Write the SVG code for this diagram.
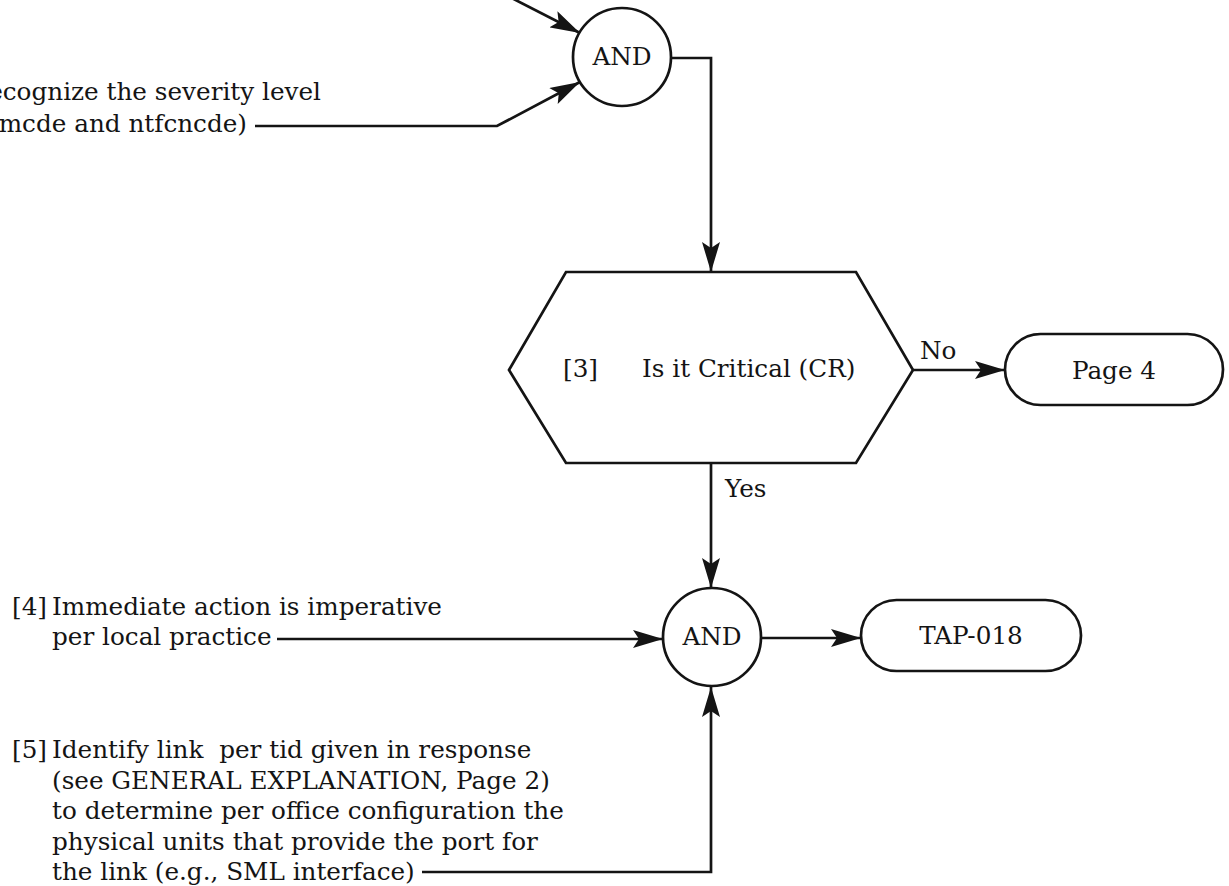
<svg xmlns="http://www.w3.org/2000/svg" width="1229" height="886" viewBox="0 0 1229 886">
  <style>
    .txt { font-family: "DejaVu Serif", "Liberation Serif", serif; font-size: 24.7px; fill: #141414; }
    .mid { text-anchor: middle; }
    .end { text-anchor: end; }
    .pre { white-space: pre; }
    .shape { fill: #ffffff; stroke: #141414; stroke-width: 2.7; }
    .wire { fill: none; stroke: #141414; stroke-width: 2.7; }
  </style>
  <defs>
    <marker id="arrow" viewBox="0 0 30 18" refX="30" refY="9" markerWidth="30" markerHeight="18" markerUnits="userSpaceOnUse" orient="auto">
      <path d="M0,0 L30,9 L0,18 L6,9 z" fill="#141414"/>
    </marker>
  </defs>
  <rect width="1229" height="886" fill="#ffffff"/>

  <!-- connectors -->
  <g id="connectors">
    <path class="wire" d="M455,-31 L580,33" marker-end="url(#arrow)"/>
    <path class="wire" d="M255,126 L497,126 L580,82" marker-end="url(#arrow)"/>
    <path class="wire" d="M671,58 L711,58 L711,272" marker-end="url(#arrow)"/>
    <path class="wire" d="M913,370 L1005,370" marker-end="url(#arrow)"/>
    <path class="wire" d="M711,463 L711,588" marker-end="url(#arrow)"/>
    <path class="wire" d="M277,639 L663,639" marker-end="url(#arrow)"/>
    <path class="wire" d="M761,638 L861,638" marker-end="url(#arrow)"/>
    <path class="wire" d="M422,872 L711,872 L711,687" marker-end="url(#arrow)"/>
    <text class="txt" x="920" y="359">No</text>
    <text class="txt" x="725" y="497">Yes</text>
  </g>

  <!-- input condition [2] -->
  <g id="input-severity">
    <text class="txt end" x="321" y="100">Recognize the severity level</text>
    <text class="txt end" x="247" y="132">(almcde and ntfcncde)</text>
  </g>

  <!-- first AND gate -->
  <g id="and-1">
    <circle class="shape" cx="622" cy="57" r="49"/>
    <text class="txt mid" x="622" y="65">AND</text>
  </g>

  <!-- decision [3] -->
  <g id="decision-critical">
    <polygon class="shape" points="509,370 566,272 856,272 913,370 856,463 566,463"/>
    <text class="txt" x="563" y="377">[3]</text>
    <text class="txt" x="642" y="377">Is it Critical (CR)</text>
  </g>

  <!-- terminal: Page 4 -->
  <g id="page-4">
    <rect class="shape" x="1005" y="334" width="218" height="71" rx="35.5" ry="35.5"/>
    <text class="txt mid" x="1114" y="379">Page 4</text>
  </g>

  <!-- condition [4] -->
  <g id="input-immediate">
    <text class="txt" x="12" y="615">[4]</text>
    <text class="txt" x="52" y="615">Immediate action is imperative</text>
    <text class="txt" x="52" y="645">per local practice</text>
  </g>

  <!-- condition [5] -->
  <g id="input-identify">
    <text class="txt" x="12" y="758">[5]</text>
    <text class="txt pre" x="52" y="758" xml:space="preserve">Identify link  per tid given in response</text>
    <text class="txt" x="52" y="788.5">(see GENERAL EXPLANATION, Page 2)</text>
    <text class="txt" x="52" y="819">to determine per office configuration the</text>
    <text class="txt" x="52" y="849.5">physical units that provide the port for</text>
    <text class="txt" x="52" y="880">the link (e.g., SML interface)</text>
  </g>

  <!-- second AND gate -->
  <g id="and-2">
    <circle class="shape" cx="712" cy="637" r="49"/>
    <text class="txt mid" x="712" y="645">AND</text>
  </g>

  <!-- terminal: TAP-018 -->
  <g id="tap-018">
    <rect class="shape" x="861" y="600" width="220" height="71" rx="35.5" ry="35.5"/>
    <text class="txt mid" x="971" y="644">TAP-018</text>
  </g>
</svg>
